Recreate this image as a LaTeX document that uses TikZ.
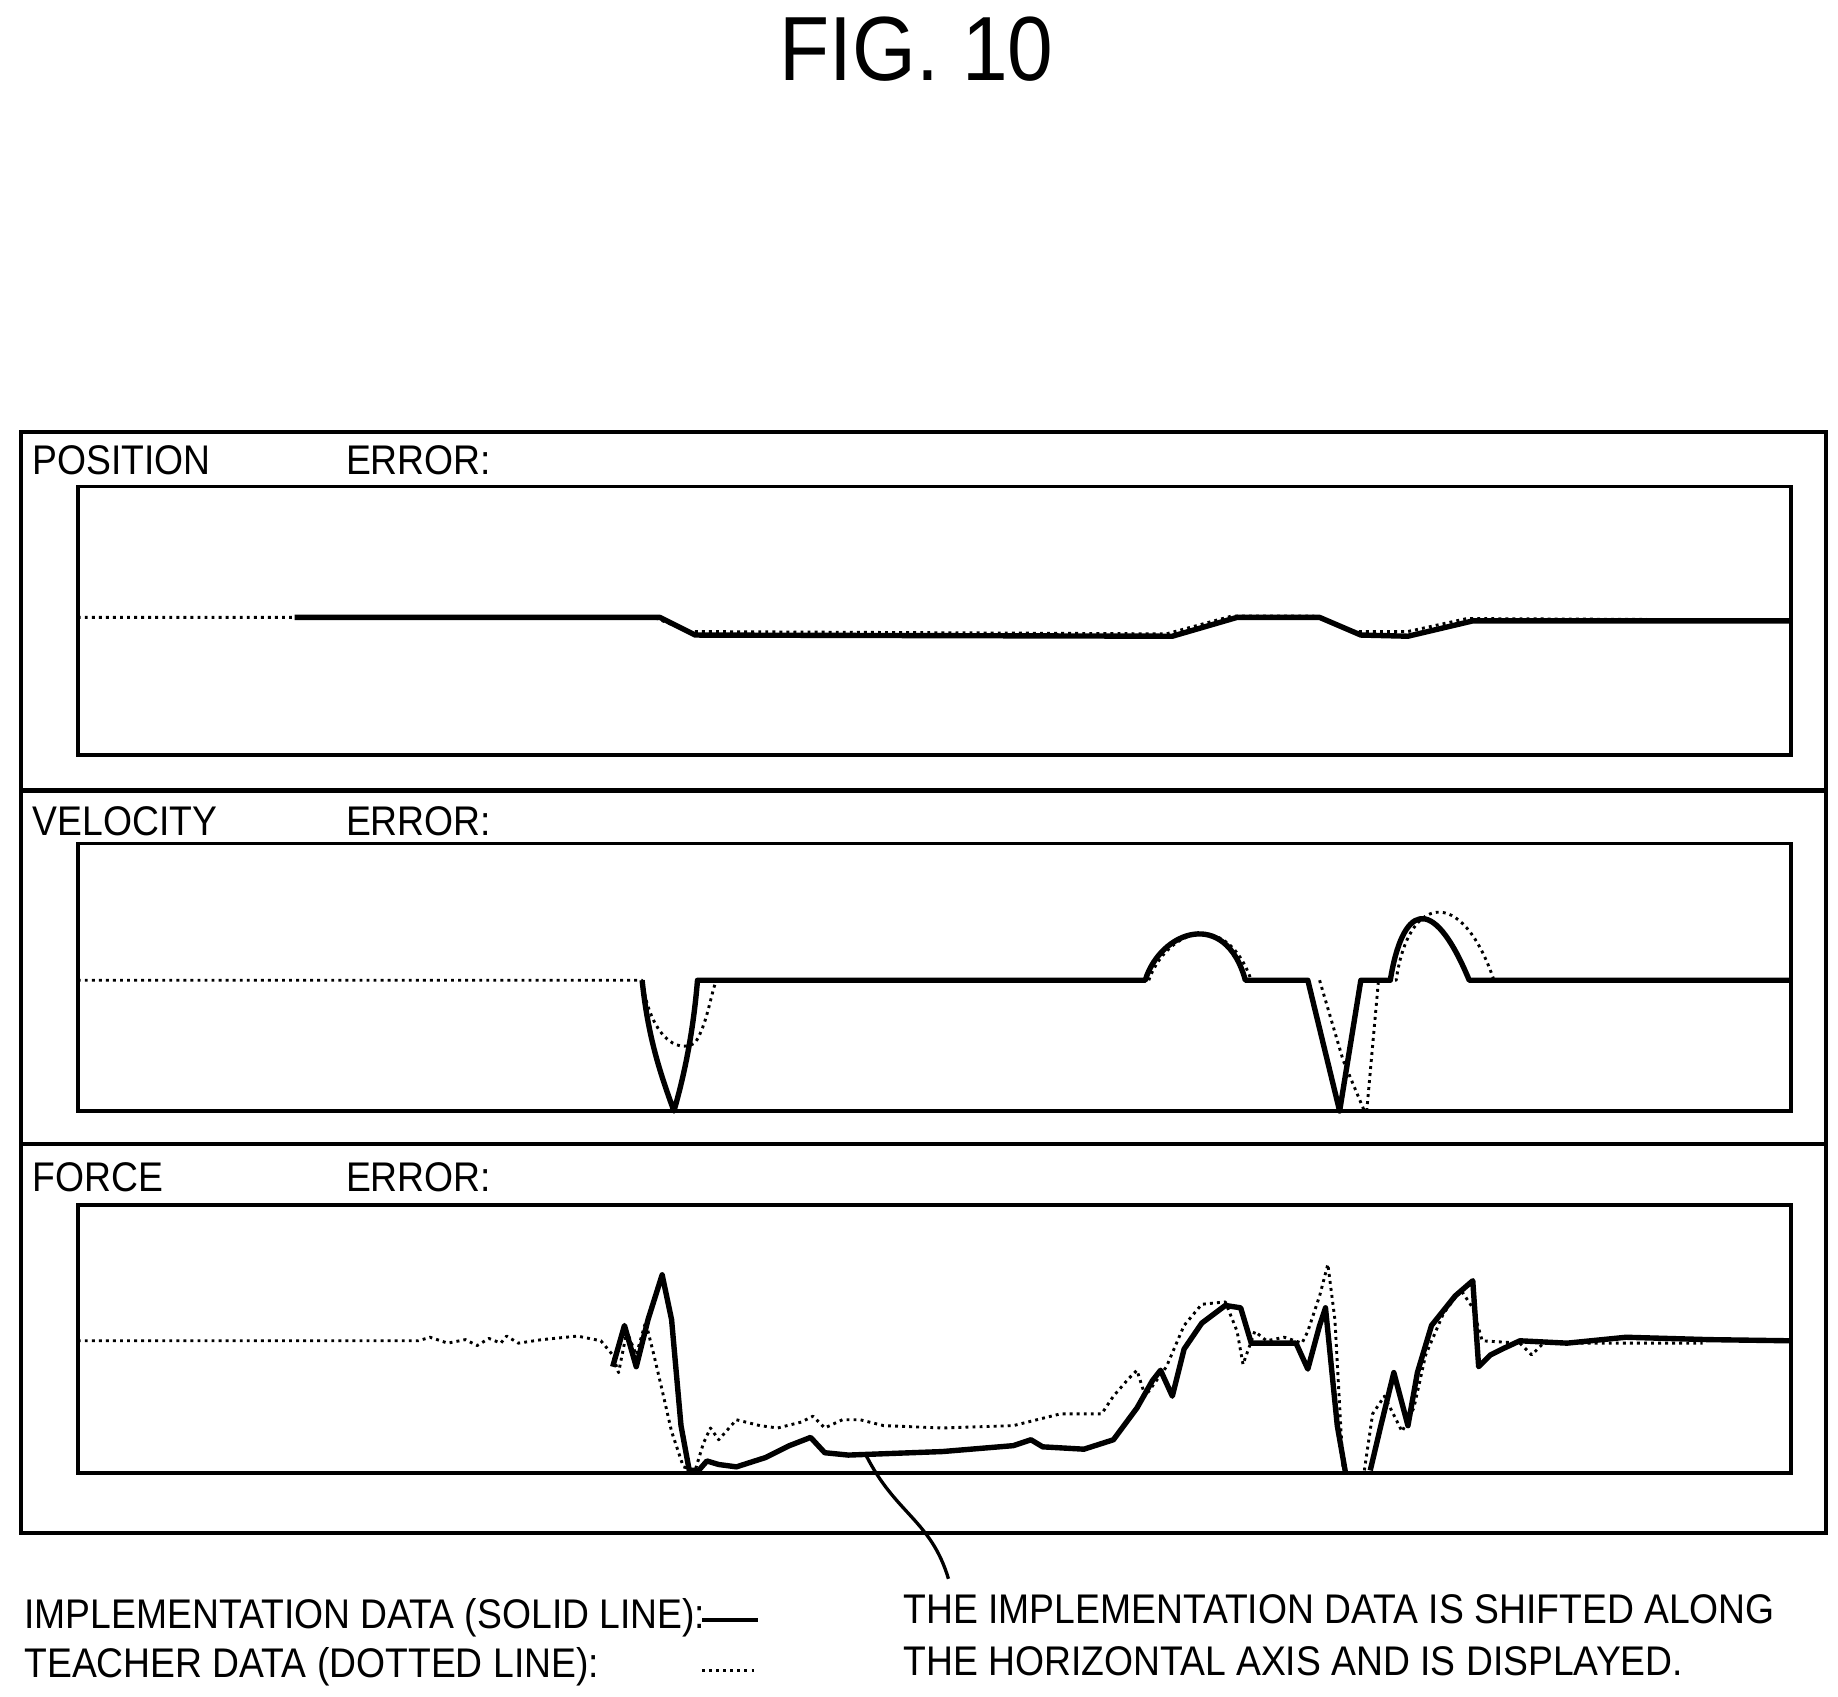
\documentclass[tikz,border=0pt]{standalone}
\usepackage{fontspec}
\setmainfont{Liberation Sans}
\newcommand{\nar}[1]{\scalebox{0.9}[1]{#1}}
\begin{document}
\begin{tikzpicture}[x=0.01cm, y=-0.01cm,
    lbl/.style={anchor=west, inner sep=0pt, font=\fontsize{10}{12}\selectfont},
    impl/.style={line width=1.3pt, line join=round},
    teacher/.style={line width=0.7pt, densely dotted, line join=round}]
    \useasboundingbox (0,0) rectangle (1560,1440);
    % Title
    \node[font=\fontsize{22}{26}\selectfont] (title) at (778,42) {\nar{FIG. 10}};

    % Panels and plot areas
    \draw[line width=1pt] (18,367) rectangle (1550,1301);
    \draw[line width=1pt] (18,671) -- (1550,671);
    \draw[line width=1pt] (18,971) -- (1550,971);
    \draw[line width=0.9pt] (66,413) rectangle (1520,641);
    \draw[line width=0.9pt] (66,716) rectangle (1520,943);
    \draw[line width=0.9pt] (66,1023) rectangle (1520,1250);
    \node[lbl] (pos) at (27,391) {\nar{POSITION}};
    \node[lbl] (poserr) at (293,391) {\nar{ERROR:}};
    \node[lbl] (vel) at (27,697) {\nar{VELOCITY}};
    \node[lbl] (velerr) at (293,697) {\nar{ERROR:}};
    \node[lbl] (frc) at (27,999) {\nar{FORCE}};
    \node[lbl] (frcerr) at (293,999) {\nar{ERROR:}};

    % Position curves
    \draw[teacher] (66,524) -- (250,524) -- (555,524) -- (585,536) -- (990,538) -- (1045,523) -- (1115,523) -- (1150,536) -- (1195,536) -- (1245,525) -- (1445,526);
    \draw[impl] (250,524) -- (560,524) -- (590,539) -- (995,540) -- (1050,524) -- (1120,524) -- (1155,539) -- (1195,540) -- (1250,527) -- (1520,527);

    % Velocity curves
    \draw[teacher] (66,832) -- (545,832) .. controls (552,880) and (575,895) .. (590,885) .. controls (600,870) and (603,845) .. (608,832);
    \draw[teacher] (975,832) .. controls (990,790) and (1040,770) .. (1062,832);
    \draw[teacher] (1120,832) -- (1140,900) -- (1158,943);
    \draw[teacher] (1160,943) -- (1170,832) -- (1185,832) .. controls (1195,760) and (1240,750) .. (1268,832) -- (1520,832);
    \draw[impl] (545,832) .. controls (550,880) and (560,910) .. (572,943) .. controls (580,915) and (588,880) .. (592,832) -- (972,832) .. controls (985,790) and (1040,770) .. (1057,832) -- (1110,832) -- (1137,943) -- (1155,832) -- (1180,832) .. controls (1190,770) and (1215,755) .. (1247,832) -- (1520,832);

    % Force curves
    \draw[teacher] (66,1138) -- (355,1138) -- (365,1135) -- (380,1140) -- (395,1137) -- (405,1142) -- (415,1136) -- (425,1140) -- (430,1134) -- (440,1140) -- (460,1137) -- (490,1134) -- (510,1138) -- (520,1150) -- (525,1165) -- (532,1130) -- (540,1150) -- (548,1122) -- (555,1150) -- (562,1180) -- (570,1215) -- (580,1245) -- (590,1248) -- (597,1225) -- (603,1212) -- (610,1222) -- (625,1205) -- (645,1210) -- (660,1212) -- (680,1207) -- (690,1202) -- (700,1212) -- (715,1205) -- (730,1205) -- (750,1210) -- (800,1212) -- (860,1210) -- (900,1200) -- (935,1200) -- (945,1185) -- (958,1170) -- (965,1163) -- (972,1185) -- (990,1160) -- (1005,1125) -- (1020,1107) -- (1040,1105) -- (1050,1130) -- (1055,1158) -- (1065,1130) -- (1075,1138) -- (1090,1135) -- (1105,1140) -- (1110,1130) -- (1120,1100) -- (1127,1073) -- (1133,1120) -- (1140,1248);
    \draw[teacher] (1158,1248) -- (1165,1200) -- (1175,1185) -- (1190,1215) -- (1200,1195) -- (1210,1150) -- (1225,1115) -- (1240,1095) -- (1250,1110) -- (1258,1138) -- (1290,1140) -- (1300,1150) -- (1310,1140) -- (1360,1140) -- (1445,1140);
    \draw[impl] (520,1160) -- (530,1125) -- (540,1160) -- (550,1120) -- (562,1082) -- (570,1120) -- (578,1210) -- (585,1248) -- (593,1248) -- (600,1240) -- (610,1243) -- (625,1245) -- (650,1237) -- (670,1227) -- (688,1220) -- (700,1233) -- (720,1235) -- (800,1232) -- (860,1227) -- (875,1222) -- (885,1228) -- (920,1230) -- (945,1222) -- (965,1195) -- (978,1172) -- (985,1163) -- (995,1185) -- (1005,1145) -- (1020,1123) -- (1040,1108) -- (1053,1110) -- (1062,1140) -- (1100,1140) -- (1110,1162) -- (1120,1125) -- (1125,1110) -- (1130,1160) -- (1135,1210) -- (1142,1250);
    \draw[impl] (1163,1248) -- (1172,1210) -- (1183,1165) -- (1195,1210) -- (1203,1165) -- (1215,1125) -- (1235,1100) -- (1250,1087) -- (1255,1160) -- (1265,1150) -- (1275,1145) -- (1290,1138) -- (1330,1140) -- (1380,1135) -- (1450,1137) -- (1520,1138);

    % Annotation
    \coordinate (shiftpt) at (735,1235);
    \node[lbl] (note) at (766,1366) {\nar{THE IMPLEMENTATION DATA IS SHIFTED ALONG}};
    \node[lbl] (note2) at (766,1410) {\nar{THE HORIZONTAL AXIS AND IS DISPLAYED.}};
    \draw[line width=0.8pt] (shiftpt) .. controls (760,1285) and (790,1290) .. (805,1340);

    % Legend
    \node[lbl] (implkey) at (20,1373) {\nar{IMPLEMENTATION DATA (SOLID LINE):}};
    \node[lbl] (teachkey) at (20,1415) {\nar{TEACHER DATA (DOTTED LINE):}};
    \draw[line width=0.8pt] (596,1375) -- (643,1375);
    \draw[teacher] (596,1418) -- (643,1418);
\end{tikzpicture}
\end{document}
